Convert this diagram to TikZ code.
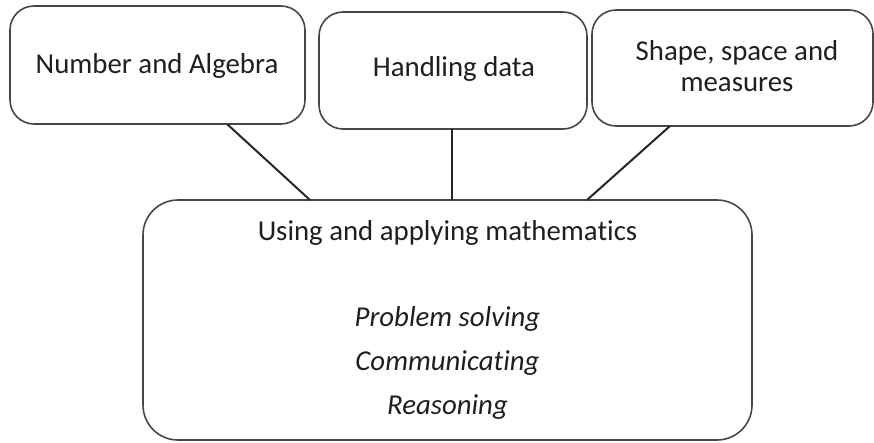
\documentclass[tikz,border=0pt]{standalone}
\usepackage{fontspec}
\setmainfont{Carlito}[Ligatures=NoCommon]
\begin{document}
\begin{tikzpicture}[x=1pt,y=-1pt,
  box/.style={draw=black!72, line width=1.6pt, rounded corners=24pt,
    inner sep=0pt, outer sep=0pt},
  bigbox/.style={box, rounded corners=35pt},
  lbl/.style={inner sep=0pt, anchor=base, text=black!88,
    font=\fontsize{28.8}{32}\selectfont},
  ilbl/.style={lbl, font=\fontsize{28.8}{32}\selectfont\itshape},
  link/.style={draw=black!85, line width=2pt}]
\useasboundingbox (0,0) rectangle (874,442);

% the three strands
\node[box, minimum width=295pt, minimum height=118pt] (alg) at (157.5,65) {};
\node[box, minimum width=268pt, minimum height=117pt] (data) at (453,70.5) {};
\node[box, minimum width=281pt, minimum height=116pt] (ssm) at (732.5,68) {};

\node[lbl] (algT) at (157,73) {Number and Algebra};
\node[lbl] (dataT) at (454,76) {Handling data};
\node[lbl] (ssmT1) at (737,60) {Shape, space and};
\node[lbl] (ssmT2) at (737,91.5) {measures};

% the overarching strand
\node[bigbox, minimum width=609pt, minimum height=240pt] (uam) at (447.5,320) {};
\node[lbl] (uamT) at (447.5,240) {Using and applying mathematics};
\node[ilbl] (ps) at (447.5,326) {Problem solving};
\node[ilbl] (com) at (447.5,370) {Communicating};
\node[ilbl] (rea) at (447.5,414) {Reasoning};

% links from each strand down to the big box
\draw[link] ([xshift=69.5pt]alg.south) -- ([xshift=-137.5pt]uam.north);
\draw[link] ([xshift=-1pt]data.south) -- ([xshift=4.5pt]uam.north);
\draw[link] ([xshift=-62.5pt]ssm.south) -- ([xshift=139.5pt]uam.north);
\end{tikzpicture}
\end{document}
